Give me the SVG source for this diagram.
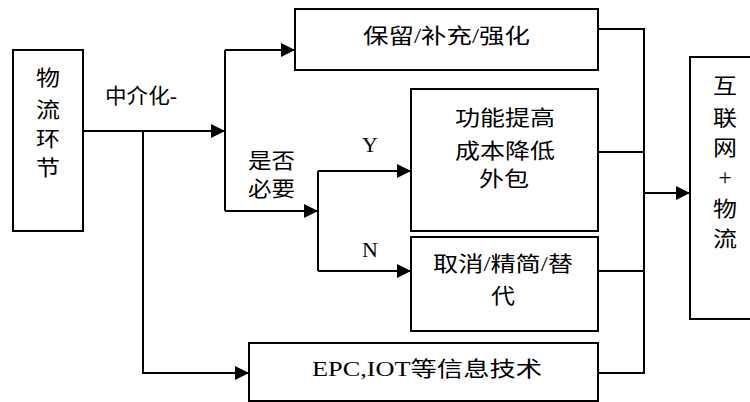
<svg xmlns="http://www.w3.org/2000/svg" width="750" height="402" viewBox="0 0 750 402">
<defs>
<marker id="arr" markerUnits="userSpaceOnUse" markerWidth="14" markerHeight="14" refX="14" refY="7" orient="auto">
<path d="M0,0 L14,7 L0,14 z" fill="#000"/>
</marker>
<style>
rect{fill:#fff;stroke:#000;stroke-width:2}
.c path{fill:none;stroke:#000;stroke-width:2}
.a{marker-end:url(#arr)}
text{font-family:"Liberation Serif","Noto Sans CJK SC",serif;font-size:21px;fill:#000}
.m{text-anchor:middle}
</style>
</defs>
<rect x="0" y="0" width="750" height="402" style="stroke:none"/>
<g class="c" id="connectors">
<path class="a" d="M83,131 H225"/>
<path class="a" d="M143,131 V373 H249"/>
<path d="M225,50 V211"/>
<path class="a" d="M225,50 H295"/>
<path class="a" d="M225,211 H318"/>
<path d="M318,171 V271"/>
<path class="a" d="M318,171 H411"/>
<path class="a" d="M318,271 H411"/>
<path d="M598,29 H644 V373 H598"/>
<path d="M598,152 H644"/>
<path d="M598,271 H644"/>
<path class="a" d="M644,193 H690"/>
</g>
<g id="wuliu">
<rect x="13" y="50" width="70" height="181"/>
<text x="36" y="85" textLength="24" lengthAdjust="spacingAndGlyphs">物</text>
<text x="36" y="117" textLength="24" lengthAdjust="spacingAndGlyphs">流</text>
<text x="36" y="146" textLength="24" lengthAdjust="spacingAndGlyphs">环</text>
<text x="36" y="175" textLength="24" lengthAdjust="spacingAndGlyphs">节</text>
</g>
<g id="label-zhongjie">
<text x="105" y="103" textLength="72" lengthAdjust="spacingAndGlyphs">中介化-</text>
</g>
<g id="label-shifou">
<text x="248" y="168" textLength="47" lengthAdjust="spacingAndGlyphs">是否</text>
<text x="248" y="196" textLength="47" lengthAdjust="spacingAndGlyphs">必要</text>
</g>
<g id="label-y"><text x="370" y="152" class="m" style="font-size:22px">Y</text></g>
<g id="label-n"><text x="370" y="257" class="m" style="font-size:22px">N</text></g>
<g id="baoliu">
<rect x="295" y="9" width="303" height="61"/>
<text x="363" y="43" textLength="167" lengthAdjust="spacingAndGlyphs">保留/补充/强化</text>
</g>
<g id="gongneng">
<rect x="411" y="89" width="187" height="142"/>
<text x="455" y="125" textLength="100" lengthAdjust="spacingAndGlyphs">功能提高</text>
<text x="455" y="158" textLength="100" lengthAdjust="spacingAndGlyphs">成本降低</text>
<text x="479" y="186" textLength="50" lengthAdjust="spacingAndGlyphs">外包</text>
</g>
<g id="quxiao">
<rect x="411" y="237" width="187" height="94"/>
<text x="433" y="271" textLength="140" lengthAdjust="spacingAndGlyphs">取消/精简/替</text>
<text x="491" y="303" textLength="24" lengthAdjust="spacingAndGlyphs">代</text>
</g>
<g id="epc">
<rect x="249" y="343" width="349" height="58"/>
<text x="312" y="376" textLength="230" lengthAdjust="spacingAndGlyphs">EPC,IOT等信息技术</text>
</g>
<g id="hulianwang">
<rect x="690" y="57" width="70" height="262"/>
<text x="713" y="93" textLength="24" lengthAdjust="spacingAndGlyphs">互</text>
<text x="713" y="125" textLength="24" lengthAdjust="spacingAndGlyphs">联</text>
<text x="713" y="155" textLength="24" lengthAdjust="spacingAndGlyphs">网</text>
<text x="725" y="185" class="m" style="font-size:24px">+</text>
<text x="713" y="216" textLength="24" lengthAdjust="spacingAndGlyphs">物</text>
<text x="713" y="246" textLength="24" lengthAdjust="spacingAndGlyphs">流</text>
</g>
</svg>
